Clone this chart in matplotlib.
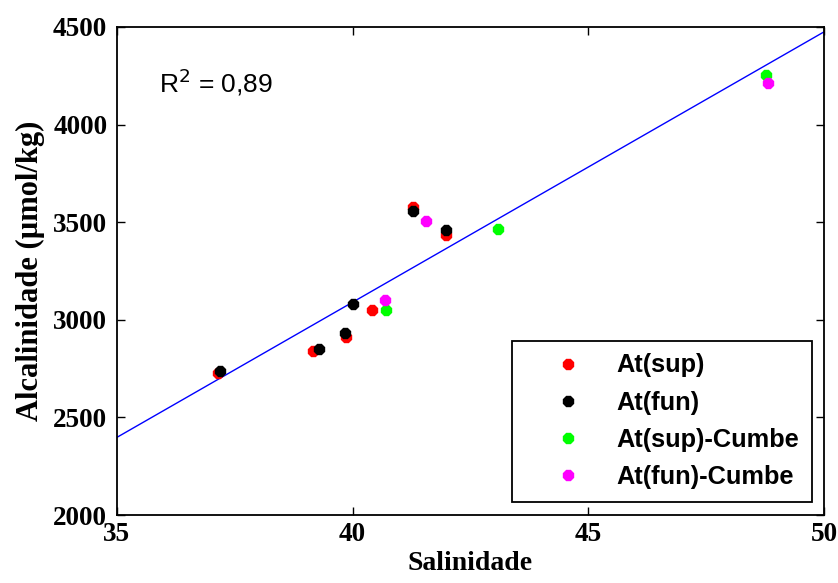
import matplotlib
matplotlib.use("Agg")
import matplotlib.pyplot as plt
import numpy as np

# Salinity / total alkalinity samples
sal_sup = [37.15, 39.16, 39.86, 40.40, 41.28, 41.98]
at_sup = [2725, 2840, 2910, 3050, 3578, 3432]

sal_fun = [37.18, 39.29, 39.84, 40.00, 41.28, 41.98]
at_fun = [2740, 2850, 2932, 3080, 3555, 3460]

sal_sup_cumbe = [40.70, 43.08, 48.77]
at_sup_cumbe = [3050, 3465, 4252]

sal_fun_cumbe = [40.69, 41.56, 48.82]
at_fun_cumbe = [3100, 3505, 4215]

# Linear fit endpoints
fit_x = [35, 50]
fit_y = [2398, 4475]
r2_text = "R$^2$ = 0,89"

x_ticks = [35, 40, 45, 50]
y_ticks = [2000, 2500, 3000, 3500, 4000, 4500]

fig = plt.figure(figsize=(8.38, 5.83), dpi=100)
ax = fig.add_axes([0.1396, 0.1166, 0.8437, 0.8371])

ax.plot(fit_x, fit_y, color="#0000ff", lw=1.0, zorder=2)

mk = dict(marker="8", markersize=8, linestyle="none", zorder=3)
ax.plot(sal_sup, at_sup, color="#ff0000", label="At(sup)", **mk)
ax.plot(sal_fun, at_fun, color="#000000", label="At(fun)", **mk)
ax.plot(sal_sup_cumbe, at_sup_cumbe, color="#00ff00", label="At(sup)-Cumbe", **mk)
ax.plot(sal_fun_cumbe, at_fun_cumbe, color="#ff00ff", label="At(fun)-Cumbe", **mk)

ax.set_xlim(35, 50)
ax.set_ylim(2000, 4500)
ax.set_xticks(x_ticks)
ax.set_yticks(y_ticks)

tick_font = dict(family="Liberation Serif", weight="bold", size=19.5)
ax.set_xticklabels([str(t) for t in x_ticks], fontdict=tick_font)
ax.set_yticklabels([str(t) for t in y_ticks], fontdict=tick_font)
ax.tick_params(axis="x", direction="in", length=6, width=1, top=True, pad=5)
ax.tick_params(axis="y", direction="in", length=6, width=1, right=True, pad=7)
for s in ax.spines.values():
    s.set_linewidth(1.3)

ax.set_xlabel("Salinidade", family="Liberation Serif", weight="bold", size=20, labelpad=3)
ax.set_ylabel("Alcalinidade (µmol/kg)", family="Liberation Serif", weight="bold", size=22, labelpad=6)

ax.text(35.9, 4162, r2_text, family="Liberation Sans", size=19, va="baseline", ha="left")

leg = ax.legend(loc="lower right", bbox_to_anchor=(0.983, 0.027), fancybox=False,
                edgecolor="black", framealpha=1, borderpad=0.5, labelspacing=0.52,
                handletextpad=0.2, borderaxespad=0, handlelength=3.4, markerscale=1.0,
                prop=dict(family="Liberation Sans", weight="bold", size=18.3))
leg.get_frame().set_linewidth(1.3)

fig.savefig("out.png", dpi=100)
